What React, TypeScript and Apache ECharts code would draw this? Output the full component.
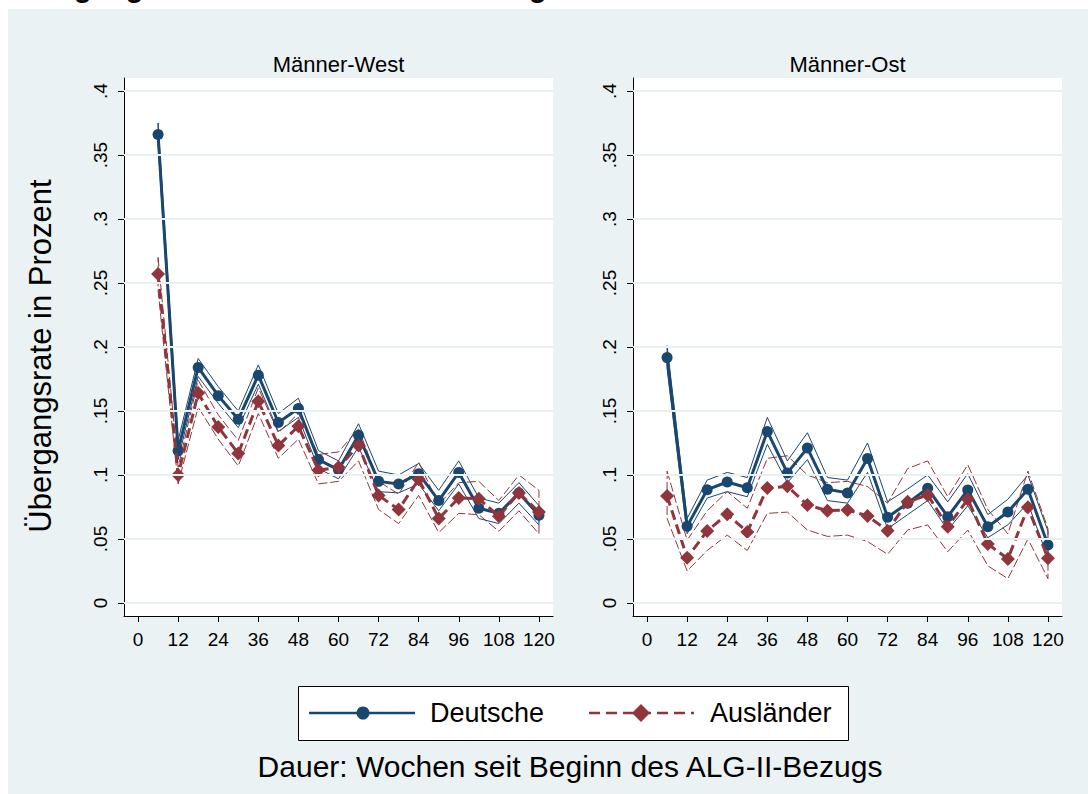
import React, { useEffect, useRef } from 'react';
import * as echarts from 'echarts';

const weeks = [6, 12, 18, 24, 30, 36, 42, 48, 54, 60, 66, 72, 78, 84, 90, 96, 102, 108, 114, 120];
const xTicks = [0, 12, 24, 36, 48, 60, 72, 84, 96, 108, 120];
const yTicks = [0, 0.05, 0.1, 0.15, 0.2, 0.25, 0.3, 0.35, 0.4];

const westDeutsche = [0.366, 0.119, 0.184, 0.162, 0.1435, 0.178, 0.141, 0.152, 0.112, 0.104, 0.131, 0.095, 0.093, 0.101, 0.080, 0.102, 0.074, 0.070, 0.086, 0.0685];
const westDeutscheHi = [0.375, 0.127, 0.191, 0.169, 0.150, 0.186, 0.148, 0.160, 0.119, 0.111, 0.140, 0.103, 0.100, 0.109, 0.088, 0.111, 0.082, 0.078, 0.094, 0.076];
const westDeutscheLo = [0.358, 0.112, 0.177, 0.156, 0.137, 0.171, 0.134, 0.145, 0.105, 0.097, 0.122, 0.087, 0.086, 0.093, 0.072, 0.093, 0.066, 0.062, 0.078, 0.061];
const westAuslaender = [0.257, 0.100, 0.164, 0.1375, 0.1167, 0.1576, 0.123, 0.138, 0.1036, 0.106, 0.123, 0.084, 0.073, 0.0966, 0.066, 0.082, 0.0815, 0.0677, 0.086, 0.071];
const westAuslaenderHi = [0.270, 0.106, 0.174, 0.147, 0.127, 0.168, 0.133, 0.148, 0.116, 0.118, 0.136, 0.095, 0.085, 0.110, 0.077, 0.094, 0.095, 0.080, 0.100, 0.088];
const westAuslaenderLo = [0.244, 0.093, 0.153, 0.128, 0.107, 0.148, 0.113, 0.128, 0.093, 0.095, 0.111, 0.073, 0.062, 0.084, 0.055, 0.070, 0.069, 0.056, 0.072, 0.054];

const ostDeutsche = [0.1917, 0.060, 0.0885, 0.0945, 0.090, 0.134, 0.1016, 0.121, 0.0888, 0.086, 0.1128, 0.067, 0.078, 0.0896, 0.0674, 0.0883, 0.0596, 0.0711, 0.0888, 0.0453];
const ostDeutscheHi = [0.201, 0.066, 0.096, 0.102, 0.098, 0.145, 0.111, 0.133, 0.098, 0.096, 0.125, 0.079, 0.089, 0.100, 0.079, 0.101, 0.069, 0.081, 0.100, 0.056];
const ostDeutscheLo = [0.183, 0.054, 0.082, 0.087, 0.083, 0.124, 0.094, 0.112, 0.080, 0.078, 0.102, 0.058, 0.069, 0.080, 0.057, 0.076, 0.051, 0.061, 0.078, 0.035];
const ostAuslaender = [0.0836, 0.0354, 0.0563, 0.0693, 0.0555, 0.0898, 0.0911, 0.0766, 0.0721, 0.0727, 0.068, 0.0565, 0.079, 0.0844, 0.0596, 0.081, 0.046, 0.0344, 0.0747, 0.0349];
const ostAuslaenderHi = [0.103, 0.049, 0.072, 0.087, 0.074, 0.113, 0.115, 0.100, 0.094, 0.095, 0.091, 0.078, 0.105, 0.111, 0.083, 0.108, 0.073, 0.054, 0.103, 0.058];
const ostAuslaenderLo = [0.066, 0.025, 0.041, 0.053, 0.041, 0.070, 0.071, 0.057, 0.052, 0.053, 0.048, 0.038, 0.057, 0.061, 0.040, 0.057, 0.029, 0.019, 0.050, 0.019];

const panelTitles = ['Männer-West', 'Männer-Ost'];
const legendLabels = ['Deutsche', 'Ausländer'];
const mainTitle = 'Übergangsraten aus dem ALG-II-Bezug';
const yTitle = 'Übergangsrate in Prozent';
const xTitle = 'Dauer: Wochen seit Beginn des ALG-II-Bezugs';

const NAVY = '#1a476f';
const MAROON = '#90353b';
const GRIDC = '#e8f0f2';
const FONT = '"Liberation Sans", Arial, Helvetica, sans-serif';

const toPairs = (vals: number[]) => weeks.map((w, i) => [w, vals[i]]);
const ciOutline = (hi: number[], lo: number[]) => [
  ...toPairs(hi),
  ...toPairs(lo).reverse(),
  [weeks[0], hi[0]],
];
const fmtY = (v: number) => (Math.abs(v) < 1e-9 ? '0' : v.toFixed(2).replace(/0+$/, '').replace(/^0/, ''));

const panels = [
  { left: 124, d: westDeutsche, dHi: westDeutscheHi, dLo: westDeutscheLo, a: westAuslaender, aHi: westAuslaenderHi, aLo: westAuslaenderLo },
  { left: 633, d: ostDeutsche, dHi: ostDeutscheHi, dLo: ostDeutscheLo, a: ostAuslaender, aHi: ostAuslaenderHi, aLo: ostAuslaenderLo },
];
const PW = 429;
const PTOP = 78;
const PH = 538;

export default function App() {
  const ref = useRef<HTMLDivElement>(null);
  useEffect(() => {
    if (!ref.current) return;
    const chart = echarts.init(ref.current, null, { renderer: 'svg' });
    const grid = panels.map((p) => ({
      left: p.left, top: PTOP, width: PW, height: PH, show: true,
      backgroundColor: '#ffffff', borderWidth: 0, containLabel: false,
    }));
    const xAxis = panels.map((_, i) => ({
      type: 'value', gridIndex: i, min: -4.2, max: 124.2,
      axisLine: { show: true, onZero: false, lineStyle: { color: '#000', width: 1 } },
      axisTick: { show: true, inside: false, length: 6, customValues: xTicks, lineStyle: { color: '#000', width: 1 } },
      axisLabel: { show: true, customValues: xTicks, margin: 14, fontSize: 19, lineHeight: 19, color: '#000', fontFamily: FONT },
      splitLine: { show: false },
    }));
    const yAxis = panels.map((_, i) => ({
      type: 'value', gridIndex: i, min: -0.0102, max: 0.4102,
      axisLine: { show: true, onZero: false, lineStyle: { color: '#000', width: 1 } },
      axisTick: { show: true, inside: false, length: 6, customValues: yTicks, lineStyle: { color: '#000', width: 1 } },
      axisLabel: { show: true, customValues: yTicks, rotate: 90, margin: 14, fontSize: 19, lineHeight: 19, color: '#000', fontFamily: FONT, formatter: (v: number) => fmtY(v) },
      splitLine: { show: false },
    }));
    const series: any[] = [];
    panels.forEach((p, i) => {
      series.push({
        type: 'line', name: 'grid' + i, xAxisIndex: i, yAxisIndex: i, data: [], z: 1, silent: true,
        markLine: {
          silent: true, symbol: 'none', label: { show: false },
          lineStyle: { color: GRIDC, width: 1.8, type: 'solid' },
          data: yTicks.map((v) => ({ yAxis: v })),
        },
      });
      series.push({
        type: 'line', name: 'ciD' + i, xAxisIndex: i, yAxisIndex: i, data: ciOutline(p.dHi, p.dLo),
        showSymbol: false, symbol: 'none', z: 2, silent: true,
        lineStyle: { color: NAVY, width: 1 },
      });
      series.push({
        type: 'line', name: 'ciA' + i, xAxisIndex: i, yAxisIndex: i, data: ciOutline(p.aHi, p.aLo),
        showSymbol: false, symbol: 'none', z: 2, silent: true,
        lineStyle: { color: MAROON, width: 1, type: [9, 3] },
      });
      series.push({
        type: 'line', name: legendLabels[0], xAxisIndex: i, yAxisIndex: i, data: toPairs(p.d),
        symbol: 'circle', symbolSize: 11, showSymbol: true, z: 3, silent: true,
        itemStyle: { color: NAVY, borderWidth: 0 },
        lineStyle: { color: NAVY, width: 3 },
      });
      series.push({
        type: 'line', name: legendLabels[1], xAxisIndex: i, yAxisIndex: i, data: toPairs(p.a),
        symbol: 'diamond', symbolSize: 14, showSymbol: true, z: 4, silent: true,
        itemStyle: { color: MAROON, borderWidth: 0 },
        lineStyle: { color: MAROON, width: 3, type: [10, 5] },
      });
    });

    const graphic: any[] = [
      { type: 'text', x: 8, y: -13.5, silent: true, style: { text: mainTitle, font: `bold 29px ${FONT}`, fill: '#000', textAlign: 'left', textVerticalAlign: 'middle' } },
      { type: 'text', x: 124 + PW / 2, y: 64, silent: true, style: { text: panelTitles[0], font: `22px ${FONT}`, fill: '#000', textAlign: 'center', textVerticalAlign: 'middle' } },
      { type: 'text', x: 633 + PW / 2, y: 64, silent: true, style: { text: panelTitles[1], font: `22px ${FONT}`, fill: '#000', textAlign: 'center', textVerticalAlign: 'middle' } },
      { type: 'text', x: 40, y: 356, rotation: Math.PI / 2, silent: true, style: { text: yTitle, font: `31px ${FONT}`, fill: '#000', textAlign: 'center', textVerticalAlign: 'middle' } },
      { type: 'text', x: 570, y: 766, silent: true, style: { text: xTitle, font: `30px ${FONT}`, fill: '#000', textAlign: 'center', textVerticalAlign: 'middle' } },
      { type: 'rect', silent: true, shape: { x: 298.5, y: 686.5, width: 550, height: 54 }, style: { fill: '#fff', stroke: '#000', lineWidth: 1 } },
      { type: 'line', silent: true, shape: { x1: 309, y1: 713, x2: 415, y2: 713 }, style: { stroke: NAVY, lineWidth: 2.5 } },
      { type: 'circle', silent: true, shape: { cx: 363, cy: 713, r: 6.5 }, style: { fill: NAVY } },
      { type: 'text', x: 430, y: 713, silent: true, style: { text: legendLabels[0], font: `27px ${FONT}`, fill: '#000', textAlign: 'left', textVerticalAlign: 'middle' } },
      { type: 'line', silent: true, shape: { x1: 589, y1: 713, x2: 694, y2: 713 }, style: { stroke: MAROON, lineWidth: 2.5, lineDash: [11, 6] } },
      { type: 'polygon', silent: true, shape: { points: [[641, 704], [650, 713], [641, 722], [632, 713]] }, style: { fill: MAROON } },
      { type: 'text', x: 710, y: 713, silent: true, style: { text: legendLabels[1], font: `27px ${FONT}`, fill: '#000', textAlign: 'left', textVerticalAlign: 'middle' } },
    ];

    chart.setOption({
      animation: false,
      backgroundColor: 'transparent',
      textStyle: { fontFamily: FONT },
      grid, xAxis, yAxis, series, graphic,
    });
    return () => chart.dispose();
  }, []);

  return (
    <div style={{ position: 'fixed', left: 0, top: 0, width: 1088, height: 794, background: '#ffffff', overflow: 'hidden' }}>
      <div style={{ position: 'absolute', left: 8, top: 9, right: 0, bottom: 0, background: '#eaf2f3' }} />
      <div ref={ref} style={{ position: 'absolute', left: 0, top: 0, width: 1088, height: 794 }} />
    </div>
  );
}
